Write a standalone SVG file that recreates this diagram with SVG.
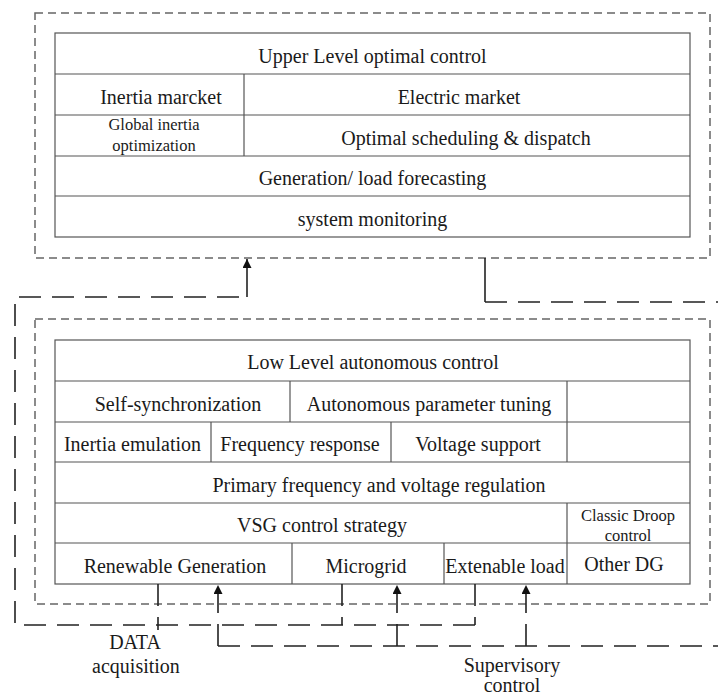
<svg xmlns="http://www.w3.org/2000/svg" width="718" height="698" viewBox="0 0 718 698">
<style>
.frame{fill:none;stroke:#666;stroke-width:1.5;stroke-dasharray:8 5}
.cell{fill:#fff;stroke:#555;stroke-width:1.2}
.ln{stroke:#555;stroke-width:1.2}
.t{font-family:"Liberation Serif","Times New Roman",serif;font-size:20px;fill:#1a1a1a;text-anchor:middle}
.s{font-size:16.5px}
.con{fill:none;stroke:#222;stroke-width:1.6;stroke-dasharray:22 11}
.sol{fill:none;stroke:#222;stroke-width:1.6}
</style>
<defs>
<marker id="ah" viewBox="0 0 10 10" refX="10" refY="5" markerWidth="9" markerHeight="9" markerUnits="userSpaceOnUse" orient="auto">
<path d="M0,0 L10,5 L0,10 Z" fill="#111"/>
</marker>
</defs>
<rect width="718" height="698" fill="#fff"/>

<g id="upper">
<rect class="frame" x="35" y="13" width="675" height="245"/>
<rect class="cell" x="55" y="33" width="635" height="204"/>
<line class="ln" x1="55" y1="74" x2="690" y2="74"/>
<line class="ln" x1="55" y1="115" x2="690" y2="115"/>
<line class="ln" x1="55" y1="156" x2="690" y2="156"/>
<line class="ln" x1="55" y1="196" x2="690" y2="196"/>
<line class="ln" x1="244" y1="74" x2="244" y2="156"/>
<text class="t" x="372.5" y="63">Upper Level optimal control</text>
<text class="t" x="161" y="104">Inertia marcket</text>
<text class="t" x="459" y="104">Electric market</text>
<text class="t s" x="154" y="130">Global inertia</text>
<text class="t s" x="154" y="151">optimization</text>
<text class="t" x="466" y="145">Optimal scheduling &amp; dispatch</text>
<text class="t" x="372.5" y="185">Generation/ load forecasting</text>
<text class="t" x="372.5" y="226">system monitoring</text>
</g>

<g id="lower">
<rect class="frame" x="35" y="319" width="675" height="285"/>
<rect class="cell" x="55" y="340" width="635" height="244"/>
<line class="ln" x1="55" y1="381" x2="690" y2="381"/>
<line class="ln" x1="55" y1="422" x2="690" y2="422"/>
<line class="ln" x1="55" y1="462" x2="690" y2="462"/>
<line class="ln" x1="55" y1="503" x2="690" y2="503"/>
<line class="ln" x1="55" y1="543" x2="690" y2="543"/>
<line class="ln" x1="290" y1="381" x2="290" y2="422"/>
<line class="ln" x1="567" y1="381" x2="567" y2="462"/>
<line class="ln" x1="211" y1="422" x2="211" y2="462"/>
<line class="ln" x1="391" y1="422" x2="391" y2="462"/>
<line class="ln" x1="567" y1="503" x2="567" y2="584"/>
<line class="ln" x1="292" y1="543" x2="292" y2="584"/>
<line class="ln" x1="444" y1="543" x2="444" y2="584"/>
<text class="t" x="373" y="369">Low Level autonomous control</text>
<text class="t" x="178" y="411">Self-synchronization</text>
<text class="t" x="429" y="411">Autonomous parameter tuning</text>
<text class="t" x="132.5" y="451">Inertia emulation</text>
<text class="t" x="300" y="451">Frequency response</text>
<text class="t" x="478" y="451">Voltage support</text>
<text class="t" x="379" y="492">Primary frequency and voltage regulation</text>
<text class="t" x="322" y="532">VSG control strategy</text>
<text class="t s" x="628" y="521">Classic Droop</text>
<text class="t s" x="628" y="541">control</text>
<text class="t" x="175" y="573">Renewable Generation</text>
<text class="t" x="366" y="573">Microgrid</text>
<text class="t" x="505" y="573">Extenable load</text>
<text class="t" x="624" y="571">Other DG</text>
</g>

<g id="labels">
<text class="t" x="135" y="649">DATA</text>
<text class="t" x="136" y="673">acquisition</text>
<text class="t" x="512" y="672">Supervisory</text>
<text class="t" x="512" y="692">control</text>
</g>

<g id="connectors">
<path class="con" d="M158,584 V630"/>
<path class="con" d="M342,584 V625"/>
<path class="con" d="M475,584 V625"/>
<path class="con" d="M475,625 H15 V297 H247"/>
<path class="sol" d="M247,297 V259" marker-end="url(#ah)"/>
<path class="sol" d="M485,258 V302"/>
<path class="con" d="M485,302 H718"/>
<path class="con" d="M218,646 H718"/>
<path class="con" d="M218,646 V585" marker-end="url(#ah)"/>
<path class="con" d="M397,646 V585" marker-end="url(#ah)"/>
<path class="con" d="M526,646 V585" marker-end="url(#ah)"/>
</g>
</svg>
